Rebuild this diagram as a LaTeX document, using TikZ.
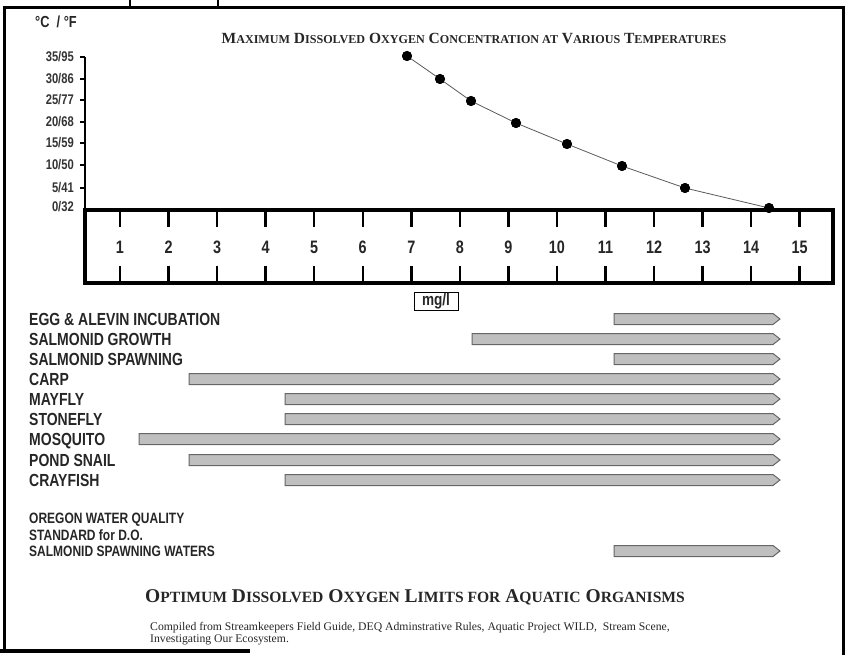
\documentclass[tikz,border=0pt]{standalone}
\usepackage{fontspec}
\setmainfont{Liberation Serif}
\newfontfamily\narrow[FakeStretch=0.8]{Liberation Sans}
\newcommand\scA[1]{{\fontsize{12.1}{14}\selectfont #1}}
\newcommand\scB[1]{{\fontsize{15.6}{18}\selectfont #1}}
\tikzset{
  frameline/.style={line width=3pt, black},
  lab/.style={anchor=base west, inner sep=0pt, font=\narrow\bfseries\fontsize{17.5}{19}\selectfont, text=black!85},
  olab/.style={anchor=base west, inner sep=0pt, font=\narrow\bfseries\fontsize{15}{16}\selectfont, text=black!85},
  ylab/.style={anchor=base east, inner sep=0pt, font=\narrow\bfseries\fontsize{14}{15}\selectfont, text=black!80},
  rnum/.style={anchor=base, inner sep=0pt, font=\narrow\bfseries\fontsize{18}{19}\selectfont, text=black!85},
  dot/.style={circle, fill=black, inner sep=0pt, minimum size=10pt},
  curve/.style={line width=0.8pt, black!65},
  barstyle/.style={fill=black!25, draw=black!60, line width=1pt},
}
\begin{document}
\begin{tikzpicture}[x=1pt,y=-1pt]
\useasboundingbox (0,0) rectangle (849,655);
% frame and crop remnants
\draw[frameline] (4,652) -- (4,8) -- (843,8) -- (843,655);
\draw[line width=4pt] (0,651) -- (250,651);
\draw[line width=2pt] (130,0) -- (130,8);
\draw[line width=2pt] (218,0) -- (218,8);
% units and title
\node[inner sep=0pt, font=\narrow\bfseries\fontsize{16}{17}\selectfont, text=black!85] (units) at (56,22) {°C\ \ /\ °F};
\node[inner sep=0pt, font=\bfseries\fontsize{15.5}{18}\selectfont, text=black!85] (title1) at (474,38)
  {M\scA{AXIMUM} D\scA{ISSOLVED} O\scA{XYGEN} C\scA{ONCENTRATION AT} V\scA{ARIOUS} T\scA{EMPERATURES}};
% y axis
\draw[line width=2pt] (85,57) -- (85,210);
\foreach \yy/\t [count=\i] in {57/35\slash 95,79/30\slash 86,100/25\slash 77,122/20\slash 68,143/15\slash 59,165/10\slash 50,188/5\slash 41}{
  \draw[line width=1.2pt] (80,\yy) -- (85,\yy);
  \node[ylab] (y\i) at (74,\yy+5) {\t};
}
\node[ylab] (y8) at (74,212) {0/32};
% ruler
\draw[line width=4pt] (85,210) rectangle (833,283);
\foreach \n in {1,...,15}{
  \pgfmathsetmacro\xx{120+(\n-1)*48.55}
  \draw[line width=2.5pt] (\xx,210) -- (\xx,227);
  \draw[line width=2.5pt] (\xx,266) -- (\xx,283);
  \node[rnum] (r\n) at (\xx,253.5) {\n};
}
\node[draw, line width=1pt, inner sep=0pt, minimum width=44pt, minimum height=18pt,
  font=\narrow\bfseries\fontsize{17}{18}\selectfont, text=black!85] (mgl) at (436,301) {mg/l};
% curve
\node[dot] (p1) at (407,56) {};
\node[dot] (p2) at (440,79) {};
\node[dot] (p3) at (471,101) {};
\node[dot] (p4) at (516,123) {};
\node[dot] (p5) at (567,144) {};
\node[dot] (p6) at (622,166) {};
\node[dot] (p7) at (685,188) {};
\node[dot] (p8) at (769,208) {};
\draw[curve] (p1.center) -- (p2.center) -- (p3.center) -- (p4.center) -- (p5.center) -- (p6.center) -- (p7.center) -- (p8.center);
\foreach \p in {1,...,8}{\fill (p\p) circle (5pt);}
% bars
\foreach \yy/\xs/\t [count=\i] in {
  319/614/{EGG \& ALEVIN INCUBATION},
  339/472/{SALMONID GROWTH},
  359/614/{SALMONID SPAWNING},
  379/189/{CARP},
  399/285/{MAYFLY},
  419/285/{STONEFLY},
  439/139/{MOSQUITO},
  460/189/{POND SNAIL},
  480/285/{CRAYFISH}}{
  \node[lab] (l\i) at (29,\yy+6.3) {\t};
  \draw[barstyle] (\xs,\yy-5.5) -- (773,\yy-5.5) -- (780,\yy) -- (773,\yy+5.5) -- (\xs,\yy+5.5) -- cycle;
}
\node[olab] (or1) at (29,523.4) {OREGON WATER QUALITY};
\node[olab] (or2) at (29,540.4) {STANDARD for D.O.};
\node[olab] (or3) at (29,556.4) {SALMONID SPAWNING WATERS};
\draw[barstyle] (614,545.5) -- (773,545.5) -- (780,551) -- (773,556.5) -- (614,556.5) -- cycle;
% bottom title and credits
\node[inner sep=0pt, font=\bfseries\fontsize{19.5}{22}\selectfont, text=black!85] (title2) at (415,597)
  {O\scB{PTIMUM} D\scB{ISSOLVED} O\scB{XYGEN} L\scB{IMITS FOR} A\scB{QUATIC} O\scB{RGANISMS}};
\node[anchor=north west, inner sep=0pt, align=left, font=\fontsize{11.7}{12.5}\selectfont, text=black!85] (cred) at (150,622)
  {Compiled from Streamkeepers Field Guide, DEQ Adminstrative Rules, Aquatic Project WILD,\ \ Stream Scene,\\Investigating Our Ecosystem.};
\end{tikzpicture}
\end{document}
